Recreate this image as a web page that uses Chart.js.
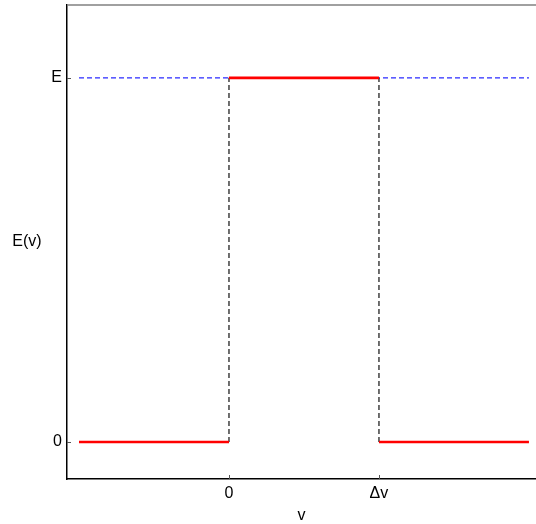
<!DOCTYPE html>
<html>
<head>
<meta charset="utf-8">
<script src="https://cdn.jsdelivr.net/npm/chart.js@4"></script>
<style>
  html, body { margin: 0; padding: 0; background: #fff; }
  #wrap { width: 536px; height: 524px; }
</style>
</head>
<body>
<div id="wrap"><canvas id="chart" width="536" height="524"></canvas></div>
<script>
const X_TICKS = [0, 1];
const X_TICK_LABELS = ['0', 'Δv'];
const Y_TICKS = [0, 1];
const Y_TICK_LABELS = ['0', 'E'];

// red step: E(v) = 0 outside [0, Δv], E inside
const stepX = [-1, 0, 0, 0, 1, 1, 1, 2];
const stepY = [0, 0, null, 1, 1, null, 0, 0];

const leftDashX = [0, 0];
const rightDashX = [1, 1];
const dashY = [0, 1];

const levelX = [-1, 2];
const levelY = [1, 1];

const X_MIN = -1.08, X_MAX = 2.047;
const Y_MIN = -0.1016, Y_MAX = 1.2;

const toPoints = (xs, ys) => xs.map((x, i) => ({ x, y: ys[i] }));

const FONT = '"Liberation Sans", Arial, sans-serif';

const framePlugin = {
  id: 'frame',
  afterDraw(chart) {
    const { ctx, chartArea: a, scales } = chart;
    ctx.save();
    // top line (gray)
    ctx.strokeStyle = '#808080';
    ctx.lineWidth = 1.5;
    ctx.beginPath();
    ctx.moveTo(a.left, a.top);
    ctx.lineTo(a.right, a.top);
    ctx.stroke();
    // inner tick marks
    ctx.strokeStyle = '#555';
    ctx.lineWidth = 1;
    Y_TICKS.forEach(v => {
      const y = Math.round(scales.y.getPixelForValue(v)) + 0.5;
      ctx.beginPath();
      ctx.moveTo(a.left, y);
      ctx.lineTo(a.left + 4, y);
      ctx.stroke();
    });
    X_TICKS.forEach(v => {
      const x = Math.round(scales.x.getPixelForValue(v)) + 0.5;
      ctx.beginPath();
      ctx.moveTo(x, a.bottom);
      ctx.lineTo(x, a.bottom - 4);
      ctx.stroke();
    });
    // axis titles
    ctx.fillStyle = '#000';
    ctx.font = '16px ' + FONT;
    ctx.textAlign = 'center';
    ctx.textBaseline = 'middle';
    ctx.fillText('E(v)', 27, 242);
    ctx.fillText('v', (a.left + a.right) / 2, 516);
    ctx.restore();
  },
};

new Chart(document.getElementById('chart'), {
  type: 'scatter',
  data: {
    datasets: [
      {
        data: toPoints(levelX, levelY),
        showLine: true,
        borderColor: '#2a2aff',
        borderWidth: 1.3,
        borderDash: [5, 3],
        pointRadius: 0,
        order: 3,
      },
      {
        data: toPoints(leftDashX, dashY),
        showLine: true,
        borderColor: '#111',
        borderWidth: 1.2,
        borderDash: [5, 3],
        pointRadius: 0,
        order: 2,
      },
      {
        data: toPoints(rightDashX, dashY),
        showLine: true,
        borderColor: '#111',
        borderWidth: 1.2,
        borderDash: [5, 3],
        pointRadius: 0,
        order: 2,
      },
      {
        data: toPoints(stepX, stepY),
        showLine: true,
        spanGaps: false,
        borderColor: '#ff0000',
        borderWidth: 2.6,
        pointRadius: 0,
        order: 1,
      },
    ],
  },
  options: {
    responsive: false,
    animation: false,
    layout: { padding: { top: 5, right: 0, left: 0, bottom: 0 } },
    plugins: { legend: { display: false }, tooltip: { enabled: false } },
    scales: {
      x: {
        type: 'linear',
        min: X_MIN,
        max: X_MAX,
        grid: { display: false, drawTicks: false },
        border: { display: true, color: '#000', width: 1.5 },
        afterBuildTicks: scale => { scale.ticks = X_TICKS.map(value => ({ value })); },
        afterFit: scale => { scale.height = 45; scale.paddingLeft = 0; scale.paddingRight = 0; },
        ticks: {
          padding: 5,
          color: '#000',
          font: { family: FONT, size: 16 },
          maxRotation: 0,
          callback: value => X_TICK_LABELS[X_TICKS.indexOf(value)] ?? '',
        },
      },
      y: {
        type: 'linear',
        min: Y_MIN,
        max: Y_MAX,
        grid: { display: false, drawTicks: false },
        border: { display: true, color: '#000', width: 1.5 },
        afterBuildTicks: scale => { scale.ticks = Y_TICKS.map(value => ({ value })); },
        afterFit: scale => { scale.width = 67; scale.paddingTop = 0; scale.paddingBottom = 0; },
        ticks: {
          padding: 5,
          color: '#000',
          font: { family: FONT, size: 16 },
          callback: value => Y_TICK_LABELS[Y_TICKS.indexOf(value)] ?? '',
        },
      },
    },
  },
  plugins: [framePlugin],
});
</script>
</body>
</html>
